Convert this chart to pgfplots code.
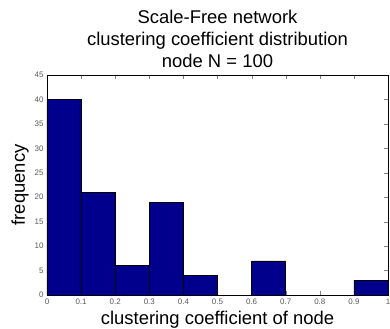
\documentclass[border=0pt]{standalone}
\usepackage{pgfplots}
\pgfplotsset{compat=1.18}
\usepackage{fontspec}
\setmainfont{Liberation Sans}
\definecolor{matnavy}{RGB}{0,0,140}
\begin{document}
\begin{tikzpicture}[x=1bp,y=1bp]
\begin{axis}[
  at={(0,0)}, anchor=south west,
  scale only axis, width=341bp, height=220bp,
  xmin=0, xmax=1, ymin=0, ymax=45,
  xtick={0,0.1,...,1.0}, ytick={0,5,...,45},
  xticklabels={0,0.1,0.2,0.3,0.4,0.5,0.6,0.7,0.8,0.9,1},
  tick align=inside, major tick length=4bp,
  tick label style={font=\fontsize{8}{9}\selectfont, color=gray!70!black},
  /pgf/number format/assume math mode=true,
  axis line style={black, line width=0.6pt},
  xlabel={clustering coefficient of node},
  ylabel={frequency},
  label style={font=\fontsize{18.5}{20}\selectfont},
  xlabel style={at={(axis description cs:0.5,0)}, anchor=base, yshift=-29.5bp, inner sep=0pt},
  ylabel style={at={(axis description cs:0,0.5)}, anchor=base, yshift=22bp, inner sep=0pt},
  title={Scale-Free network\\clustering coefficient distribution\\node N = 100},
  title style={at={(axis description cs:0.5,1)}, anchor=south, font=\fontsize{18.5}{22}\selectfont, align=center, yshift=1bp, inner sep=0pt},
]
\addplot[ybar interval, fill=matnavy, draw=black, line width=0.5pt] coordinates {
(0,40) (0.1,21) (0.2,6) (0.3,19) (0.4,4) (0.5,0) (0.6,7) (0.7,0) (0.8,0) (0.9,3) (1.0,3)
};
\end{axis}
\pgfresetboundingbox
\path (-47,-34) rectangle (343,295);
\end{tikzpicture}
\end{document}
